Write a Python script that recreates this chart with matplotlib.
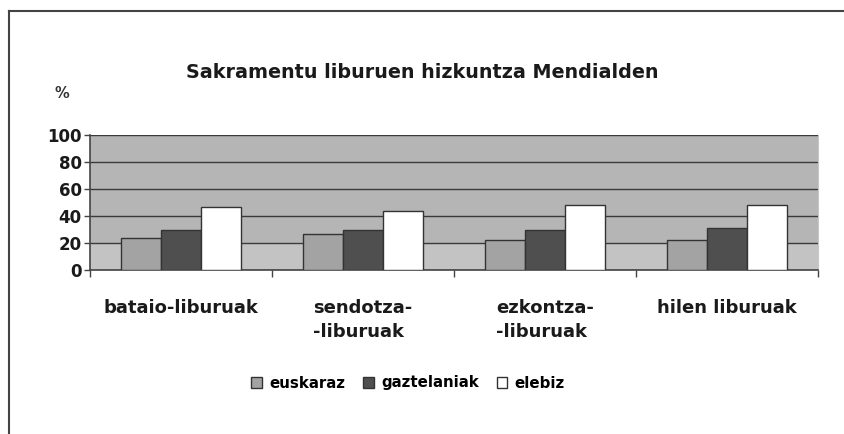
import numpy as np
import matplotlib.pyplot as plt
from matplotlib.lines import Line2D

plt.rcParams['font.family'] = ['DejaVu Sans']
plt.rcParams['font.weight'] = 'bold'

# Data
categories = ['bataio-liburuak', 'sendotza-\n-liburuak', 'ezkontza-\n-liburuak', 'hilen liburuak']
series_names = ['euskaraz', 'gaztelaniak', 'elebiz']
euskaraz = [24, 27, 22, 22]
gaztelaniak = [30, 30, 30, 31]
elebiz = [47, 44, 48, 48]
y_ticks = [0, 20, 40, 60, 80, 100]

colors = ['#a3a3a3', '#4f4f4f', '#ffffff']
values = [euskaraz, gaztelaniak, elebiz]

fig = plt.figure(figsize=(8.44, 4.34), dpi=100)
ax = fig.add_axes([90 / 844, 1 - 270 / 434, 728 / 844, 135 / 434])

ax.set_facecolor('#b5b5b5')
ax.axhspan(0, 20, color='#c3c3c3', zorder=0)

x = np.arange(len(categories))
width = 0.22
for i, (vals, col, name) in enumerate(zip(values, colors, series_names)):
    ax.bar(x + (i - 1) * width, vals, width, color=col, edgecolor='#333333',
           linewidth=1.0, label=name, zorder=3)

ax.set_xlim(-0.5, len(categories) - 0.5)
ax.set_ylim(0, 100)
ax.set_yticks(y_ticks)
ax.yaxis.grid(True, color='#3a3a3a', linewidth=1.0, zorder=1)
ax.set_axisbelow(True)

# category labels between boundary ticks, Excel style
ax.set_xticks(np.arange(len(categories) + 1) - 0.5)
ax.set_xticklabels([])
ax.tick_params(axis='x', length=5, width=1, color='#444444', direction='out')
ax.tick_params(axis='y', length=4, width=1, color='#444444', labelsize=12,
               pad=2, labelcolor='#1a1a1a')
for lbl in ax.get_yticklabels():
    lbl.set_fontweight('bold')
for xi, cat in zip(x, categories):
    ax.text(xi, -21.5, cat, ha='center', va='top', fontsize=13, fontweight='bold',
            linespacing=1.4, multialignment='left', color='#1a1a1a')

for side in ['left', 'bottom']:
    ax.spines[side].set_color('#444444')
    ax.spines[side].set_linewidth(1.2)
ax.spines['top'].set_visible(False)
ax.spines['right'].set_color('#c8c8c8')

fig.text(422 / 844, 1 - 73 / 434, 'Sakramentu liburuen hizkuntza Mendialden',
         ha='center', va='center', fontsize=13.8, fontweight='bold', color='#1a1a1a')
fig.text(62 / 844, 1 - 94 / 434, '%', ha='center', va='center', fontsize=10.5,
         fontweight='bold', color='#333333')

fig.legend(loc='center', bbox_to_anchor=(408 / 844, 1 - 383 / 434), ncol=3,
           frameon=False, handlelength=0.7, handleheight=0.7,
           handletextpad=0.5, columnspacing=1.2, prop={'weight': 'bold', 'size': 10.8})

# page frame (left and top edges)
fig.add_artist(Line2D([9 / 844, 9 / 844], [0, 1 - 11 / 434], color='#444444', linewidth=1.5))
fig.add_artist(Line2D([9 / 844, 1], [1 - 11 / 434, 1 - 11 / 434], color='#444444', linewidth=1.5))

fig.savefig('out.png', dpi=100)
